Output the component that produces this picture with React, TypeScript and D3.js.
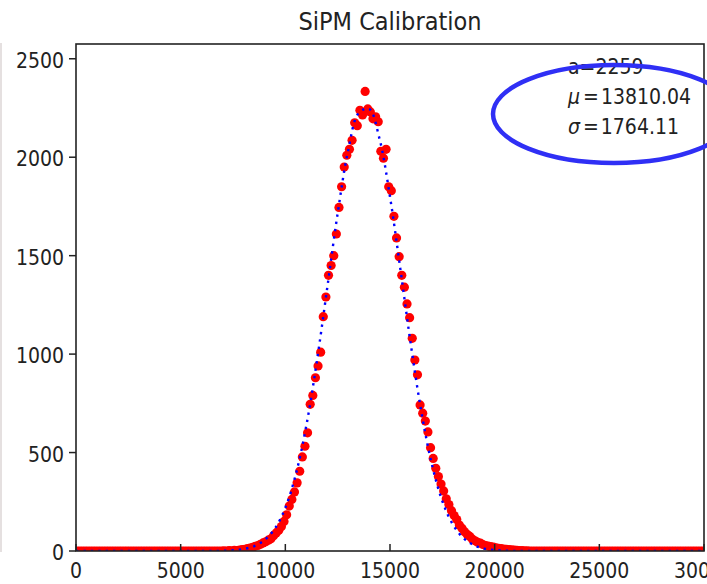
import React from 'react';
import * as d3 from 'd3';

const chartTitle = 'SiPM Calibration';

// histogram: bin width 125, bins from 0 to 30000 (240 bins)
const binWidth = 125;
const counts: number[] = [
  0, 0, 0, 0, 0, 0, 0, 0, 0, 0, 0, 0, 0, 0, 0, 0, 0, 0, 0, 0,
  0, 0, 0, 0, 0, 0, 0, 0, 0, 0, 0, 0, 0, 0, 0, 0, 0, 0, 0, 0,
  0, 0, 0, 0, 0, 0, 0, 0, 0, 0, 0, 0, 0, 0, 0, 0, 1, 0, 2, 1,
  3, 2, 5, 7, 9, 12, 15, 19, 24, 28, 34, 41, 47, 55, 62, 78, 92, 106, 124, 150,
  184, 228, 262, 300, 346, 405, 478, 532, 600, 745, 790, 880, 940, 1010, 1190, 1290, 1400, 1450, 1500, 1610,
  1745, 1850, 1950, 2010, 2040, 2086, 2175, 2160, 2238, 2215, 2334, 2245, 2230, 2195, 2205, 2180, 2030, 1995, 2040, 1850,
  1830, 1700, 1590, 1495, 1400, 1340, 1255, 1185, 1080, 970, 895, 742, 700, 660, 605, 525, 470, 420, 378, 340,
  305, 265, 236, 205, 180, 160, 132, 115, 98, 84, 74, 60, 52, 44, 40, 33, 28, 25, 22, 20,
  16, 14, 12, 10, 9, 7, 6, 4, 3, 2, 2, 1, 1, 0, 0, 0, 0, 0, 0, 0,
  0, 0, 0, 0, 0, 0, 0, 0, 0, 0, 0, 0, 0, 0, 0, 0, 0, 0, 0, 0,
  0, 0, 0, 0, 0, 0, 0, 0, 0, 0, 0, 0, 0, 0, 0, 0, 0, 0, 0, 0,
  0, 0, 0, 0, 0, 0, 0, 0, 0, 0, 0, 0, 0, 0, 0, 0, 0, 0, 0, 0,
];

// fitted curve sampled every 500 from 0 to 30000
const fitStep = 500;
const fitValues: number[] = [
  0, 0, 0, 0, 0, 0, 0, 0, 0, 0, 0, 0, 0, 0,
  1.3, 3.8, 10, 24, 55, 114, 219, 389, 635, 959, 1335, 1715, 2033, 2224,
  2246, 2093, 1799, 1428, 1045, 706, 440, 253, 135, 66, 30, 12, 5, 2,
  0, 0, 0, 0, 0, 0, 0, 0, 0, 0, 0, 0, 0, 0, 0, 0, 0, 0, 0,
];

const xTicks = [0, 5000, 10000, 15000, 20000, 25000, 30000];
const yTicks = [0, 500, 1000, 1500, 2000, 2500];
const paramA = '2259';
const paramMu = '13810.04';
const paramSigma = '1764.11';

const W = 707;
const H = 584;
const plot = { left: 76, right: 704, top: 44, bottom: 551 };
const FONT = "'DejaVu Sans Condensed', 'DejaVu Sans', sans-serif";
const INK = '#222';

export default function App() {
  const x = d3.scaleLinear().domain([0, 30000]).range([plot.left, plot.right]);
  const y = d3.scaleLinear().domain([0, 2575]).range([plot.bottom, plot.top]);

  const points = counts.map((c, i) => ({ x: binWidth * (i + 0.5), y: c }));
  const fitPts: [number, number][] = fitValues.map((v, i) => [i * fitStep, v]);
  const line = d3
    .line<[number, number]>()
    .x((d) => x(d[0]))
    .y((d) => y(d[1]))
    .curve(d3.curveCatmullRom);

  const textStyle = { fontFamily: FONT, fontStretch: 'condensed' as const };

  return (
    <svg
      width={W}
      height={H}
      style={{ position: 'absolute', left: 0, top: 0, background: '#fff' }}
    >
      <rect x={0} y={0} width={W} height={H} fill="#fff" />
      <line x1={1} x2={1} y1={43} y2={552} stroke="#ddd6d6" strokeWidth={1.5} />
      <text
        x={(plot.left + plot.right) / 2}
        y={30}
        textAnchor="middle"
        fontSize={25}
        fill={INK}
        style={textStyle}
      >
        {chartTitle}
      </text>
      <defs>
        <clipPath id="plotClip">
          <rect
            x={plot.left}
            y={plot.top}
            width={plot.right - plot.left}
            height={plot.bottom - plot.top}
          />
        </clipPath>
      </defs>
      <g clipPath="url(#plotClip)">
        {points.map((p, i) => (
          <circle key={i} cx={x(p.x)} cy={y(p.y)} r={4.6} fill="#ff0000" />
        ))}
        <path
          d={line(fitPts) || ''}
          fill="none"
          stroke="#0000ff"
          strokeWidth={2.4}
          strokeDasharray="2.4 5"
        />
      </g>
      <rect
        x={plot.left}
        y={plot.top}
        width={plot.right - plot.left}
        height={plot.bottom - plot.top}
        fill="none"
        stroke={INK}
        strokeWidth={1.6}
      />
      {yTicks.map((t) => (
        <g key={'y' + t}>
          <line x1={plot.left - 7} x2={plot.left} y1={y(t)} y2={y(t)} stroke={INK} strokeWidth={1.5} />
          <text
            x={64}
            y={y(t) + 9}
            textAnchor="end"
            fontSize={21}
            fill={INK}
            style={textStyle}
          >
            {t}
          </text>
        </g>
      ))}
      {xTicks.map((t) => (
        <g key={'x' + t}>
          <line x1={x(t)} x2={x(t)} y1={plot.bottom} y2={plot.bottom - 7} stroke={INK} strokeWidth={1.5} />
          <text
            x={x(t)}
            y={578}
            textAnchor="middle"
            fontSize={21}
            fill={INK}
            style={textStyle}
          >
            {t}
          </text>
        </g>
      ))}
      <g fontSize={21} fill={INK} style={textStyle}>
        <text x={568} y={74}>{'a=' + paramA}</text>
        <text x={568} y={104}>
          <tspan fontStyle="italic">μ</tspan>
          <tspan dx={3}>=</tspan>
          <tspan dx={2}>{paramMu}</tspan>
        </text>
        <text x={568} y={134}>
          <tspan fontStyle="italic">σ</tspan>
          <tspan dx={3}>=</tspan>
          <tspan dx={2}>{paramSigma}</tspan>
        </text>
      </g>
      <ellipse
        cx={614}
        cy={114}
        rx={121}
        ry={49}
        fill="none"
        stroke="#2f2ff5"
        strokeWidth={4.5}
      />
    </svg>
  );
}
